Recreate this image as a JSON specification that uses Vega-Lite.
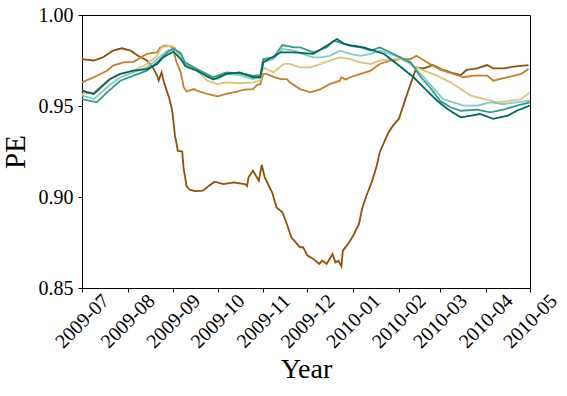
{
  "$schema": "https://vega.github.io/schema/vega-lite/v6.json",
  "width": 448,
  "height": 273,
  "autosize": {"type": "none"},
  "padding": {"left": 82, "top": 15, "right": 37, "bottom": 108},
  "config": {
    "font": "Liberation Serif",
    "view": {"stroke": "#000000", "strokeWidth": 1},
    "axis": {"domainColor": "#000000", "tickColor": "#000000", "labelColor": "#000000", "titleColor": "#000000", "titleFontWeight": "normal", "grid": false, "domainWidth": 1, "tickWidth": 1}
  },
  "data": {"values": [
    {"series":"A","date":"2009-07-01","pe":0.9758},{"series":"A","date":"2009-07-09","pe":0.9750},{"series":"A","date":"2009-07-15","pe":0.9767},{"series":"A","date":"2009-07-22","pe":0.9804},{"series":"A","date":"2009-07-28","pe":0.9817},{"series":"A","date":"2009-08-03","pe":0.9804},{"series":"A","date":"2009-08-08","pe":0.9776},{"series":"A","date":"2009-08-14","pe":0.9750},{"series":"A","date":"2009-08-18","pe":0.9712},{"series":"A","date":"2009-08-21","pe":0.9667},{"series":"A","date":"2009-08-22","pe":0.9640},{"series":"A","date":"2009-08-24","pe":0.9685},{"series":"A","date":"2009-08-26","pe":0.9620},{"series":"A","date":"2009-08-29","pe":0.9548},{"series":"A","date":"2009-08-31","pe":0.9484},{"series":"A","date":"2009-09-01","pe":0.942},{"series":"A","date":"2009-09-02","pe":0.934},{"series":"A","date":"2009-09-03","pe":0.930},{"series":"A","date":"2009-09-04","pe":0.9254},{"series":"A","date":"2009-09-07","pe":0.925},{"series":"A","date":"2009-09-08","pe":0.9154},{"series":"A","date":"2009-09-10","pe":0.906},{"series":"A","date":"2009-09-12","pe":0.904},{"series":"A","date":"2009-09-16","pe":0.9032},{"series":"A","date":"2009-09-21","pe":0.9035},{"series":"A","date":"2009-09-25","pe":0.906},{"series":"A","date":"2009-09-29","pe":0.9084},{"series":"A","date":"2009-10-05","pe":0.9071},{"series":"A","date":"2009-10-12","pe":0.908},{"series":"A","date":"2009-10-20","pe":0.907},{"series":"A","date":"2009-10-21","pe":0.906},{"series":"A","date":"2009-10-22","pe":0.9108},{"series":"A","date":"2009-10-25","pe":0.9145},{"series":"A","date":"2009-10-27","pe":0.9117},{"series":"A","date":"2009-10-29","pe":0.909},{"series":"A","date":"2009-10-31","pe":0.9176},{"series":"A","date":"2009-11-02","pe":0.9108},{"series":"A","date":"2009-11-07","pe":0.9026},{"series":"A","date":"2009-11-10","pe":0.8943},{"series":"A","date":"2009-11-14","pe":0.8916},{"series":"A","date":"2009-11-17","pe":0.8852},{"series":"A","date":"2009-11-20","pe":0.8779},{"series":"A","date":"2009-11-26","pe":0.8724},{"series":"A","date":"2009-11-28","pe":0.8724},{"series":"A","date":"2009-12-01","pe":0.8678},{"series":"A","date":"2009-12-05","pe":0.866},{"series":"A","date":"2009-12-09","pe":0.8632},{"series":"A","date":"2009-12-11","pe":0.865},{"series":"A","date":"2009-12-14","pe":0.8632},{"series":"A","date":"2009-12-18","pe":0.8687},{"series":"A","date":"2009-12-20","pe":0.8641},{"series":"A","date":"2009-12-22","pe":0.865},{"series":"A","date":"2009-12-24","pe":0.862},{"series":"A","date":"2009-12-25","pe":0.8705},{"series":"A","date":"2009-12-29","pe":0.8747},{"series":"A","date":"2010-01-01","pe":0.8787},{"series":"A","date":"2010-01-05","pe":0.8852},{"series":"A","date":"2010-01-07","pe":0.8934},{"series":"A","date":"2010-01-10","pe":0.9007},{"series":"A","date":"2010-01-14","pe":0.909},{"series":"A","date":"2010-01-17","pe":0.9172},{"series":"A","date":"2010-01-19","pe":0.9245},{"series":"A","date":"2010-01-23","pe":0.9319},{"series":"A","date":"2010-01-25","pe":0.9355},{"series":"A","date":"2010-01-28","pe":0.9392},{"series":"A","date":"2010-02-01","pe":0.9429},{"series":"A","date":"2010-02-07","pe":0.9575},{"series":"A","date":"2010-02-11","pe":0.9667},{"series":"A","date":"2010-02-13","pe":0.9712},{"series":"A","date":"2010-02-18","pe":0.9707},{"series":"A","date":"2010-02-24","pe":0.9725},{"series":"A","date":"2010-03-03","pe":0.9698},{"series":"A","date":"2010-03-10","pe":0.968},{"series":"A","date":"2010-03-15","pe":0.967},{"series":"A","date":"2010-03-19","pe":0.9698},{"series":"A","date":"2010-03-26","pe":0.9707},{"series":"A","date":"2010-04-02","pe":0.9725},{"series":"A","date":"2010-04-06","pe":0.9707},{"series":"A","date":"2010-04-13","pe":0.9707},{"series":"A","date":"2010-04-20","pe":0.9716},{"series":"A","date":"2010-04-30","pe":0.9725},
    {"series":"B","date":"2009-07-01","pe":0.963},{"series":"B","date":"2009-07-09","pe":0.9658},{"series":"B","date":"2009-07-18","pe":0.9694},{"series":"B","date":"2009-07-22","pe":0.9722},{"series":"B","date":"2009-07-29","pe":0.974},{"series":"B","date":"2009-08-05","pe":0.9743},{"series":"B","date":"2009-08-14","pe":0.9786},{"series":"B","date":"2009-08-21","pe":0.9794},{"series":"B","date":"2009-08-23","pe":0.9822},{"series":"B","date":"2009-08-26","pe":0.9831},{"series":"B","date":"2009-08-30","pe":0.983},{"series":"B","date":"2009-09-01","pe":0.9808},{"series":"B","date":"2009-09-03","pe":0.9743},{"series":"B","date":"2009-09-06","pe":0.9685},{"series":"B","date":"2009-09-08","pe":0.9603},{"series":"B","date":"2009-09-10","pe":0.958},{"series":"B","date":"2009-09-15","pe":0.9593},{"series":"B","date":"2009-09-17","pe":0.9584},{"series":"B","date":"2009-09-24","pe":0.9566},{"series":"B","date":"2009-10-01","pe":0.9553},{"series":"B","date":"2009-10-07","pe":0.9566},{"series":"B","date":"2009-10-14","pe":0.9579},{"series":"B","date":"2009-10-19","pe":0.959},{"series":"B","date":"2009-10-25","pe":0.9593},{"series":"B","date":"2009-10-28","pe":0.9616},{"series":"B","date":"2009-10-30","pe":0.962},{"series":"B","date":"2009-11-01","pe":0.9676},{"series":"B","date":"2009-11-03","pe":0.9676},{"series":"B","date":"2009-11-08","pe":0.966},{"series":"B","date":"2009-11-13","pe":0.9648},{"series":"B","date":"2009-11-17","pe":0.9648},{"series":"B","date":"2009-11-19","pe":0.963},{"series":"B","date":"2009-11-26","pe":0.9593},{"series":"B","date":"2009-12-03","pe":0.9575},{"series":"B","date":"2009-12-10","pe":0.9593},{"series":"B","date":"2009-12-16","pe":0.962},{"series":"B","date":"2009-12-23","pe":0.9639},{"series":"B","date":"2009-12-24","pe":0.9658},{"series":"B","date":"2009-12-27","pe":0.9645},{"series":"B","date":"2009-12-30","pe":0.9658},{"series":"B","date":"2010-01-06","pe":0.9676},{"series":"B","date":"2010-01-13","pe":0.9694},{"series":"B","date":"2010-01-19","pe":0.9731},{"series":"B","date":"2010-01-26","pe":0.9749},{"series":"B","date":"2010-02-02","pe":0.9758},{"series":"B","date":"2010-02-09","pe":0.9758},{"series":"B","date":"2010-02-13","pe":0.9776},{"series":"B","date":"2010-02-20","pe":0.974},{"series":"B","date":"2010-03-01","pe":0.970},{"series":"B","date":"2010-03-10","pe":0.9676},{"series":"B","date":"2010-03-17","pe":0.9658},{"series":"B","date":"2010-03-24","pe":0.9667},{"series":"B","date":"2010-04-02","pe":0.9667},{"series":"B","date":"2010-04-06","pe":0.9639},{"series":"B","date":"2010-04-16","pe":0.9658},{"series":"B","date":"2010-04-25","pe":0.9676},{"series":"B","date":"2010-04-30","pe":0.9703},
    {"series":"C","date":"2009-07-01","pe":0.9566},{"series":"C","date":"2009-07-09","pe":0.9575},{"series":"C","date":"2009-07-18","pe":0.9639},{"series":"C","date":"2009-07-27","pe":0.9676},{"series":"C","date":"2009-08-05","pe":0.9694},{"series":"C","date":"2009-08-14","pe":0.9731},{"series":"C","date":"2009-08-21","pe":0.9776},{"series":"C","date":"2009-08-24","pe":0.9822},{"series":"C","date":"2009-08-30","pe":0.9831},{"series":"C","date":"2009-09-02","pe":0.9822},{"series":"C","date":"2009-09-06","pe":0.9758},{"series":"C","date":"2009-09-10","pe":0.9712},{"series":"C","date":"2009-09-17","pe":0.9694},{"series":"C","date":"2009-09-24","pe":0.9639},{"series":"C","date":"2009-10-01","pe":0.962},{"series":"C","date":"2009-10-07","pe":0.963},{"series":"C","date":"2009-10-16","pe":0.9625},{"series":"C","date":"2009-10-25","pe":0.963},{"series":"C","date":"2009-10-30","pe":0.964},{"series":"C","date":"2009-11-01","pe":0.9712},{"series":"C","date":"2009-11-08","pe":0.9685},{"series":"C","date":"2009-11-15","pe":0.9731},{"series":"C","date":"2009-11-19","pe":0.9731},{"series":"C","date":"2009-11-26","pe":0.9712},{"series":"C","date":"2009-12-03","pe":0.9712},{"series":"C","date":"2009-12-10","pe":0.9731},{"series":"C","date":"2009-12-16","pe":0.9749},{"series":"C","date":"2009-12-23","pe":0.9767},{"series":"C","date":"2009-12-30","pe":0.9758},{"series":"C","date":"2010-01-06","pe":0.974},{"series":"C","date":"2010-01-13","pe":0.9731},{"series":"C","date":"2010-01-19","pe":0.9749},{"series":"C","date":"2010-01-26","pe":0.9758},{"series":"C","date":"2010-02-02","pe":0.9758},{"series":"C","date":"2010-02-09","pe":0.9731},{"series":"C","date":"2010-02-13","pe":0.9712},{"series":"C","date":"2010-02-18","pe":0.9694},{"series":"C","date":"2010-02-27","pe":0.9667},{"series":"C","date":"2010-03-08","pe":0.963},{"series":"C","date":"2010-03-15","pe":0.9593},{"series":"C","date":"2010-03-22","pe":0.9557},{"series":"C","date":"2010-03-31","pe":0.9538},{"series":"C","date":"2010-04-09","pe":0.952},{"series":"C","date":"2010-04-18","pe":0.9529},{"series":"C","date":"2010-04-25","pe":0.9538},{"series":"C","date":"2010-05-01","pe":0.9575},
    {"series":"D","date":"2009-07-01","pe":0.9557},{"series":"D","date":"2009-07-09","pe":0.9538},{"series":"D","date":"2009-07-18","pe":0.9603},{"series":"D","date":"2009-07-27","pe":0.9658},{"series":"D","date":"2009-08-05","pe":0.9685},{"series":"D","date":"2009-08-14","pe":0.9712},{"series":"D","date":"2009-08-21","pe":0.9758},{"series":"D","date":"2009-08-28","pe":0.9804},{"series":"D","date":"2009-09-01","pe":0.9813},{"series":"D","date":"2009-09-06","pe":0.9795},{"series":"D","date":"2009-09-09","pe":0.9731},{"series":"D","date":"2009-09-17","pe":0.9703},{"series":"D","date":"2009-09-24","pe":0.9658},{"series":"D","date":"2009-10-01","pe":0.9648},{"series":"D","date":"2009-10-07","pe":0.9676},{"series":"D","date":"2009-10-16","pe":0.967},{"series":"D","date":"2009-10-25","pe":0.9648},{"series":"D","date":"2009-10-30","pe":0.966},{"series":"D","date":"2009-11-01","pe":0.974},{"series":"D","date":"2009-11-08","pe":0.9758},{"series":"D","date":"2009-11-14","pe":0.9813},{"series":"D","date":"2009-11-22","pe":0.9804},{"series":"D","date":"2009-11-28","pe":0.9785},{"series":"D","date":"2009-12-05","pe":0.9767},{"series":"D","date":"2009-12-10","pe":0.9767},{"series":"D","date":"2009-12-16","pe":0.9776},{"series":"D","date":"2009-12-23","pe":0.9804},{"series":"D","date":"2009-12-30","pe":0.9786},{"series":"D","date":"2010-01-06","pe":0.9776},{"series":"D","date":"2010-01-13","pe":0.9786},{"series":"D","date":"2010-01-19","pe":0.9804},{"series":"D","date":"2010-01-26","pe":0.9786},{"series":"D","date":"2010-02-02","pe":0.9767},{"series":"D","date":"2010-02-09","pe":0.9731},{"series":"D","date":"2010-02-18","pe":0.9658},{"series":"D","date":"2010-02-25","pe":0.9593},{"series":"D","date":"2010-03-03","pe":0.9538},{"series":"D","date":"2010-03-10","pe":0.952},{"series":"D","date":"2010-03-17","pe":0.9502},{"series":"D","date":"2010-03-26","pe":0.9502},{"series":"D","date":"2010-04-04","pe":0.952},{"series":"D","date":"2010-04-13","pe":0.9511},{"series":"D","date":"2010-04-22","pe":0.952},{"series":"D","date":"2010-05-01","pe":0.9529},
    {"series":"E","date":"2009-07-01","pe":0.9538},{"series":"E","date":"2009-07-11","pe":0.952},{"series":"E","date":"2009-07-18","pe":0.9575},{"series":"E","date":"2009-07-27","pe":0.9639},{"series":"E","date":"2009-08-05","pe":0.9667},{"series":"E","date":"2009-08-14","pe":0.9694},{"series":"E","date":"2009-08-21","pe":0.974},{"series":"E","date":"2009-08-28","pe":0.9795},{"series":"E","date":"2009-09-01","pe":0.9817},{"series":"E","date":"2009-09-06","pe":0.9786},{"series":"E","date":"2009-09-09","pe":0.974},{"series":"E","date":"2009-09-17","pe":0.9703},{"series":"E","date":"2009-09-28","pe":0.9658},{"series":"E","date":"2009-10-07","pe":0.9685},{"series":"E","date":"2009-10-16","pe":0.968},{"series":"E","date":"2009-10-25","pe":0.9667},{"series":"E","date":"2009-10-30","pe":0.967},{"series":"E","date":"2009-11-01","pe":0.9758},{"series":"E","date":"2009-11-08","pe":0.9767},{"series":"E","date":"2009-11-14","pe":0.9835},{"series":"E","date":"2009-11-22","pe":0.9822},{"series":"E","date":"2009-11-26","pe":0.9822},{"series":"E","date":"2009-12-05","pe":0.9795},{"series":"E","date":"2009-12-14","pe":0.9822},{"series":"E","date":"2009-12-19","pe":0.9859},{"series":"E","date":"2009-12-30","pe":0.9831},{"series":"E","date":"2010-01-06","pe":0.9822},{"series":"E","date":"2010-01-13","pe":0.9804},{"series":"E","date":"2010-01-19","pe":0.9822},{"series":"E","date":"2010-01-26","pe":0.9795},{"series":"E","date":"2010-02-02","pe":0.9767},{"series":"E","date":"2010-02-09","pe":0.974},{"series":"E","date":"2010-02-16","pe":0.9658},{"series":"E","date":"2010-02-22","pe":0.9603},{"series":"E","date":"2010-03-01","pe":0.9529},{"series":"E","date":"2010-03-08","pe":0.9493},{"series":"E","date":"2010-03-15","pe":0.9474},{"series":"E","date":"2010-03-26","pe":0.948},{"series":"E","date":"2010-04-04","pe":0.9465},{"series":"E","date":"2010-04-13","pe":0.948},{"series":"E","date":"2010-04-22","pe":0.9502},{"series":"E","date":"2010-05-01","pe":0.952},
    {"series":"F","date":"2009-07-01","pe":0.9584},{"series":"F","date":"2009-07-09","pe":0.9566},{"series":"F","date":"2009-07-20","pe":0.9648},{"series":"F","date":"2009-07-27","pe":0.9676},{"series":"F","date":"2009-08-05","pe":0.9694},{"series":"F","date":"2009-08-14","pe":0.9703},{"series":"F","date":"2009-08-21","pe":0.9731},{"series":"F","date":"2009-08-25","pe":0.9767},{"series":"F","date":"2009-09-01","pe":0.9799},{"series":"F","date":"2009-09-06","pe":0.9758},{"series":"F","date":"2009-09-09","pe":0.9721},{"series":"F","date":"2009-09-17","pe":0.9694},{"series":"F","date":"2009-09-28","pe":0.9645},{"series":"F","date":"2009-10-07","pe":0.9676},{"series":"F","date":"2009-10-16","pe":0.9685},{"series":"F","date":"2009-10-25","pe":0.9658},{"series":"F","date":"2009-10-30","pe":0.9658},{"series":"F","date":"2009-11-01","pe":0.974},{"series":"F","date":"2009-11-13","pe":0.9795},{"series":"F","date":"2009-11-22","pe":0.9795},{"series":"F","date":"2009-12-05","pe":0.9786},{"series":"F","date":"2009-12-14","pe":0.9831},{"series":"F","date":"2009-12-21","pe":0.9868},{"series":"F","date":"2009-12-26","pe":0.9841},{"series":"F","date":"2010-01-01","pe":0.9831},{"series":"F","date":"2010-01-08","pe":0.9822},{"series":"F","date":"2010-01-15","pe":0.9804},{"series":"F","date":"2010-01-22","pe":0.9786},{"series":"F","date":"2010-01-28","pe":0.9749},{"series":"F","date":"2010-02-04","pe":0.9703},{"series":"F","date":"2010-02-11","pe":0.9658},{"series":"F","date":"2010-02-20","pe":0.9584},{"series":"F","date":"2010-02-27","pe":0.9529},{"series":"F","date":"2010-03-06","pe":0.9484},{"series":"F","date":"2010-03-15","pe":0.9438},{"series":"F","date":"2010-03-22","pe":0.9447},{"series":"F","date":"2010-03-28","pe":0.9456},{"series":"F","date":"2010-04-06","pe":0.9429},{"series":"F","date":"2010-04-16","pe":0.9447},{"series":"F","date":"2010-04-22","pe":0.9474},{"series":"F","date":"2010-05-01","pe":0.9502}
  ]},
  "mark": {"type": "line", "strokeWidth": 1.8, "clip": true},
  "encoding": {
    "x": {
      "field": "date", "type": "temporal",
      "scale": {"type": "utc", "domain": [{"year": 2009, "month": 7, "date": 1, "utc": true}, {"year": 2010, "month": 5, "date": 1, "utc": true}], "nice": false},
      "axis": {
        "title": "Year", "titleFontSize": 28, "titlePadding": 4,
        "values": [
          {"year": 2009, "month": 7, "date": 1, "utc": true}, {"year": 2009, "month": 8, "date": 1, "utc": true}, {"year": 2009, "month": 9, "date": 1, "utc": true}, {"year": 2009, "month": 10, "date": 1, "utc": true}, {"year": 2009, "month": 11, "date": 1, "utc": true}, {"year": 2009, "month": 12, "date": 1, "utc": true}, {"year": 2010, "month": 1, "date": 1, "utc": true}, {"year": 2010, "month": 2, "date": 1, "utc": true}, {"year": 2010, "month": 3, "date": 1, "utc": true}, {"year": 2010, "month": 4, "date": 1, "utc": true}, {"year": 2010, "month": 5, "date": 1, "utc": true}
        ],
        "format": "%Y-%m", "labelAngle": -45, "labelAlign": "center", "labelBaseline": "middle",
        "labelFontSize": 20, "tickSize": 4, "labelPadding": 29, "labelOverlap": false, "labelFlush": false
      }
    },
    "y": {
      "field": "pe", "type": "quantitative",
      "scale": {"domain": [0.85, 1.0], "nice": false, "zero": false},
      "axis": {"title": "PE", "titleFontSize": 29, "titlePadding": 8, "values": [0.85, 0.9, 0.95, 1.0], "format": ".2f", "labelFontSize": 20, "tickSize": 4, "labelPadding": 5}
    },
    "color": {
      "field": "series", "type": "nominal", "legend": null,
      "scale": {"domain": ["A", "B", "C", "D", "E", "F"], "range": ["#8c510a", "#bf812d", "#dfc27d", "#80cdc1", "#35978f", "#01665e"]}
    }
  }
}
